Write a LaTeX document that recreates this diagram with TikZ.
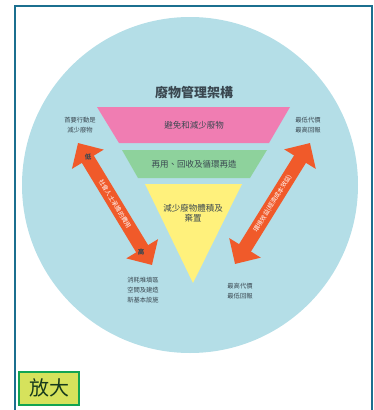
\documentclass[tikz,border=0pt]{standalone}
\usepackage{fontspec}
\usepackage{xcolor}
\usepackage{tikz}
\usetikzlibrary{calc,arrows.meta}
\newfontfamily\cjk{Noto Sans CJK TC}
\definecolor{frame}{HTML}{1B6F8F}
\definecolor{disc}{HTML}{B4DEE7}
\definecolor{pinkband}{HTML}{F07DB2}
\definecolor{greenband}{HTML}{8ED29C}
\definecolor{yellowband}{HTML}{FFF17C}
\definecolor{arrowred}{HTML}{F05A2A}
\definecolor{ink}{HTML}{3A4750}
\definecolor{btnfill}{HTML}{D6E25C}
\definecolor{btnedge}{HTML}{12A452}
\definecolor{btntext}{HTML}{173A1C}
\tikzset{
  band/.style={line width=0pt, draw=none},
  bandtxt/.style={text=ink, font=\cjk\fontsize{8.5}{10}\selectfont, align=center, inner sep=0pt},
  side/.style={text=ink, font=\cjk\fontsize{6.3}{10}\selectfont, align=center, inner sep=0pt},
  bigarrow/.style={draw=arrowred, line width=14pt,
    {Triangle[width=36pt,length=19pt]}-{Triangle[width=36pt,length=19pt]}},
  arrowtxt/.style={text=white, font=\cjk\fontsize{6.2}{7}\selectfont, inner sep=0pt},
  endmark/.style={text=ink, font=\cjk\bfseries\fontsize{6.5}{7}\selectfont, inner sep=0pt},
}

\begin{document}
\begin{tikzpicture}[x=1pt,y=-1pt]
  \useasboundingbox (0,0) rectangle (374,410);
  % frame and disc
  \draw[frame, line width=2.5pt] (15,412) -- (15,6) -- (372,6) -- (372,412);
  \fill[disc] (190,185) circle (168);
  \node[text=ink, font=\cjk\bfseries\fontsize{13}{15}\selectfont] (title) at (194,93) {廢物管理架構};
  % hierarchy
  \fill[pinkband] (97,107) -- (290,107) -- (269,143) -- (119,143) -- cycle;
  \node[bandtxt] (avoid) at (194,125) {避免和減少廢物};
  \fill[greenband] (122,150) -- (267,150) -- (250,178) -- (138,178) -- cycle;
  \node[bandtxt] (reuse) at (194,164) {再用、回收及循環再造};
  \fill[yellowband] (145,184) -- (242,184) -- (193,283) -- cycle;
  \node[bandtxt, text width=80pt] (dispose) at (193,213) {減少廢物體積及\\棄置};
  % side labels
  \node[side] (topleft) at (80,125) {首要行動是\\減少廢物};
  \node[side] (topright) at (308,125) {最低代價\\最高回報};
  \node[side] (botleft) at (143,290) {消耗堆填區\\空間及建造\\新基本設施};
  \node[side] (botright) at (240,291) {最高代價\\最低回報};
  % double arrows
  \coordinate (ltop) at (78,143);
  \coordinate (lbot) at (152,265);
  \coordinate (rtop) at (310,143);
  \coordinate (rbot) at (235,264);
  \draw[bigarrow] (ltop) -- (lbot) node[arrowtxt, midway, sloped] (lcost) {社會人士承擔的費用};
  \draw[bigarrow] (rtop) -- (rbot) node[arrowtxt, midway, sloped] (rgain) {環境效益(經濟成本效益)};
  \node[endmark] (low) at (88,157) {低};
  \node[endmark] (high) at (141,252) {高};
  % zoom button
  \node[draw=btnedge, line width=2pt, fill=btnfill, text=btntext, font=\cjk\fontsize{20}{22}\selectfont,
    minimum width=60pt, minimum height=33pt, inner sep=0pt] (zoombtn) at (49,388) {放大};
\end{tikzpicture}
\end{document}
